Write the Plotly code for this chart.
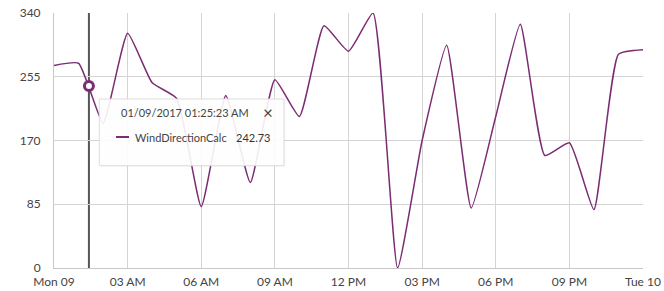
import plotly.graph_objects as go
import pandas as pd

# ---- data ----
hours = list(range(25))
wind_direction = [270, 273, 193, 313, 247, 226, 82, 230, 114, 251, 202, 323,
                  289, 340, 0, 170, 297, 80, 202, 325, 150, 167, 78, 285, 291]
times = [pd.Timestamp("2017-01-09 00:00:00") + pd.Timedelta(hours=h) for h in hours]

hover_time = pd.Timestamp("2017-01-09 01:25:23")
hover_value = 242.73
series_name = "WindDirectionCalc"

tick_times = [pd.Timestamp("2017-01-09 00:00:00") + pd.Timedelta(hours=h) for h in range(0, 25, 3)]
tick_labels = ["Mon 09", "03 AM", "06 AM", "09 AM", "12 PM", "03 PM", "06 PM", "09 PM", "Tue 10"]
y_ticks = [0, 85, 170, 255, 340]

LINE = "#7b2d73"
FONT = "Lato, Noto Sans, sans-serif"

fig = go.Figure()
fig.add_trace(go.Scatter(
    x=times, y=wind_direction, mode="lines", name=series_name,
    line=dict(color=LINE, width=1.5, shape="spline", smoothing=0.45),
    cliponaxis=True, hoverinfo="skip",
))
fig.add_trace(go.Scatter(
    x=[hover_time], y=[hover_value], mode="markers",
    marker=dict(symbol="circle", size=9, color="white", line=dict(color=LINE, width=3)),
    hoverinfo="skip", cliponaxis=False,
))

# crosshair
fig.add_shape(type="line", xref="x", yref="paper", x0=hover_time, x1=hover_time, y0=0, y1=1,
              line=dict(color="#555555", width=2), layer="below")

# tooltip box (shadow + body)
fig.add_shape(type="rect", xref="paper", yref="paper", x0=0.0785, x1=0.3925, y0=0.398, y1=0.661,
              fillcolor="rgba(0,0,0,0.05)", line=dict(width=0), layer="above")
fig.add_shape(type="rect", xref="paper", yref="paper", x0=0.0769, x1=0.3905, y0=0.4012, y1=0.6627,
              fillcolor="rgba(255,255,255,0.9)", line=dict(color="#dddddd", width=1), layer="above")
fig.add_shape(type="line", xref="paper", yref="paper", x0=0.1053, x1=0.1273, y0=0.5137, y1=0.5137,
              line=dict(color=LINE, width=2), layer="above")
fig.add_annotation(xref="paper", yref="paper", x=0.2224, y=0.6098, text="01/09/2017 01:25:23 AM",
                   showarrow=False, xanchor="center", yanchor="middle",
                   font=dict(family=FONT, size=11, color="#444444"))
fig.add_annotation(xref="paper", yref="paper", x=0.3628, y=0.6098, text="×",
                   showarrow=False, xanchor="center", yanchor="middle",
                   font=dict(family=FONT, size=17, color="#444444"))
fig.add_annotation(xref="paper", yref="paper", x=0.1341, y=0.5137, text=series_name,
                   showarrow=False, xanchor="left", yanchor="middle",
                   font=dict(family=FONT, size=11, color="#444444"))
fig.add_annotation(xref="paper", yref="paper", x=0.3056, y=0.5137, text=f"{hover_value:.2f}",
                   showarrow=False, xanchor="left", yanchor="middle",
                   font=dict(family=FONT, size=11, color="#333333"))

fig.update_layout(
    width=664, height=291,
    margin=dict(l=54, r=21, t=13, b=23),
    paper_bgcolor="white", plot_bgcolor="white",
    showlegend=False,
    font=dict(family=FONT, size=12, color="#444444"),
    xaxis=dict(
        type="date", range=[tick_times[0], tick_times[-1]],
        tickmode="array", tickvals=tick_times, ticktext=tick_labels,
        showgrid=True, gridcolor="#d4d4d4", gridwidth=1,
        showline=True, linecolor="#c8c8c8", linewidth=1,
        zeroline=False, ticks="", ticklabelstandoff=3, fixedrange=True, automargin=False,
    ),
    yaxis=dict(
        range=[0, 340], tickmode="array", tickvals=y_ticks,
        showgrid=True, gridcolor="#d4d4d4", gridwidth=1,
        showline=True, linecolor="#c8c8c8", linewidth=1,
        zeroline=False, ticks="", ticklabelstandoff=10, fixedrange=True, automargin=False,
    ),
)

fig.write_html("out.html", config={"displayModeBar": False})
